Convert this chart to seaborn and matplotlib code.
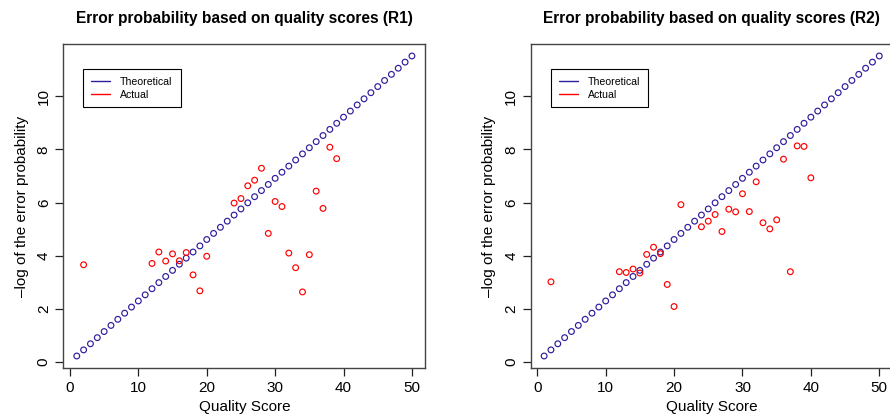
import numpy as np
import matplotlib
matplotlib.use('Agg')
import matplotlib.pyplot as plt
import seaborn as sns
from matplotlib.lines import Line2D

# ==========================================
# Dados
# ==========================================
quality_theo = list(range(1, 51))
theo_vals = [0.23, 0.46, 0.69, 0.92, 1.15, 1.38, 1.61, 1.84, 2.07, 2.30,
             2.53, 2.76, 2.99, 3.22, 3.45, 3.68, 3.91, 4.14, 4.37, 4.61,
             4.84, 5.07, 5.30, 5.53, 5.76, 5.99, 6.22, 6.45, 6.68, 6.91,
             7.14, 7.37, 7.60, 7.83, 8.06, 8.29, 8.52, 8.75, 8.98, 9.21,
             9.44, 9.67, 9.90, 10.13, 10.36, 10.59, 10.82, 11.05, 11.28, 11.51]

r1_quality = [2, 12, 13, 14, 15, 16, 17, 18, 19, 20, 24, 25, 26, 27, 28,
              29, 30, 31, 32, 33, 34, 35, 36, 37, 38, 39]
r1_actual = [3.66, 3.71, 4.14, 3.80, 4.07, 3.81, 4.12, 3.28, 2.68, 3.98,
             5.98, 6.15, 6.63, 6.84, 7.29, 4.84, 6.04, 5.85, 4.10, 3.55,
             2.64, 4.04, 6.43, 5.78, 8.08, 7.65]

r2_quality = [2, 12, 13, 14, 15, 16, 17, 18, 19, 20, 21, 24, 25, 26, 27,
              28, 29, 30, 31, 32, 33, 34, 35, 36, 37, 38, 39, 40]
r2_actual = [3.02, 3.40, 3.37, 3.50, 3.35, 4.05, 4.32, 4.08, 2.92, 2.09,
             5.92, 5.09, 5.30, 5.55, 4.91, 5.75, 5.65, 6.33, 5.66, 6.78,
             5.24, 5.01, 5.35, 7.63, 3.40, 8.13, 8.11, 6.93]

panels = [('R1', r1_quality, r1_actual), ('R2', r2_quality, r2_actual)]

blue = '#2D1D9C'
red = '#FF0000'

sns.set_theme(style='white')
plt.rcParams['font.family'] = ['Liberation Sans', 'DejaVu Sans']
plt.rcParams['text.color'] = 'black'
plt.rcParams['axes.labelcolor'] = 'black'
plt.rcParams['xtick.color'] = 'black'
plt.rcParams['ytick.color'] = 'black'

fig = plt.figure(figsize=(8.9, 4.19), dpi=100)
lefts = [0.0712, 0.5963]

for left, (nome, qx, qy) in zip(lefts, panels):
    ax = fig.add_axes([left, 0.1217, 0.4067, 0.7733])
    sns.scatterplot(x=quality_theo, y=theo_vals, ax=ax, marker='o', s=17,
                    color=blue, facecolor='none', edgecolor=blue, linewidth=0.85)
    sns.scatterplot(x=qx, y=qy, ax=ax, marker='o', s=17,
                    color=red, facecolor='none', edgecolor=red, linewidth=0.85)

    # limites estilo R (4% de folga)
    allx = quality_theo + qx
    ally = theo_vals + qy
    dx = (max(allx) - min(allx)) * 0.04
    dy = (max(ally) - min(ally)) * 0.04
    ax.set_xlim(min(allx) - dx, max(allx) + dx)
    ax.set_ylim(min(ally) - dy, max(ally) + dy)

    ax.set_xticks([0, 10, 20, 30, 40, 50])
    ax.set_yticks([0, 2, 4, 6, 8, 10])
    ax.tick_params(axis='both', direction='out', length=6, width=0.9,
                   color='#222222', labelsize=11, pad=3,
                   bottom=True, left=True)
    for lab in ax.get_yticklabels():
        lab.set_rotation(90)
        lab.set_va('center')
    for sp in ax.spines.values():
        sp.set_color('#444444')
        sp.set_linewidth(1.0)

    ax.set_title(f'Error probability based on quality scores ({nome})',
                 fontsize=11.2, fontweight='bold', pad=15)
    ax.set_xlabel('Quality Score', fontsize=11, labelpad=4)
    ax.set_ylabel('\u2013log of the error probability', fontsize=11, labelpad=6)

    handles = [Line2D([], [], color=blue, lw=1.0),
               Line2D([], [], color=red, lw=1.0)]
    leg = ax.legend(handles, ['Theoretical', 'Actual'], loc='upper left',
                    bbox_to_anchor=(0.055, 0.922), borderaxespad=0,
                    fontsize=7.6, frameon=True, fancybox=False, framealpha=1,
                    edgecolor='black', handlelength=1.8, handletextpad=0.95,
                    borderpad=0.75, labelspacing=0.22)
    leg.get_frame().set_linewidth(0.8)

fig.savefig('out.png', dpi=100)
